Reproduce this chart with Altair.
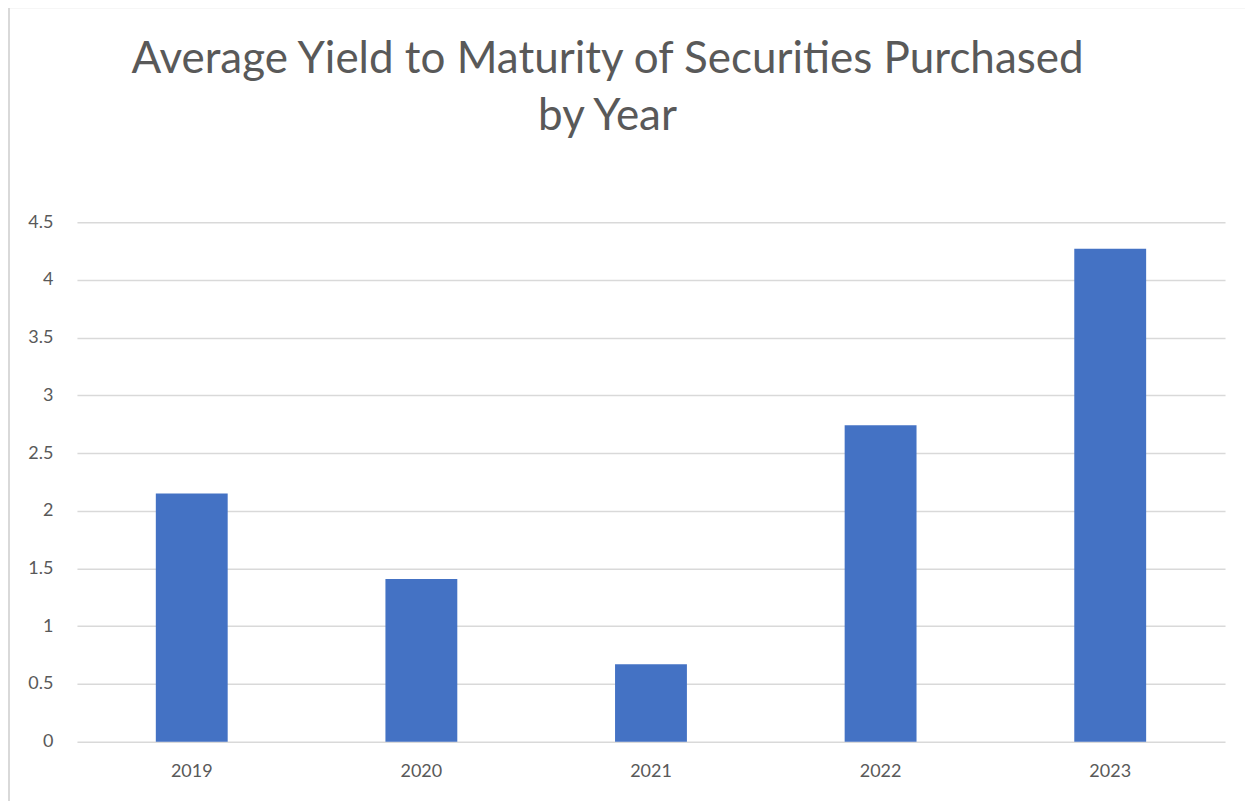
import altair as alt
import pandas as pd

years = ["2019", "2020", "2021", "2022", "2023"]
yields = [2.15, 1.41, 0.67, 2.74, 4.27]
y_ticks = [0, 0.5, 1, 1.5, 2, 2.5, 3, 3.5, 4, 4.5]
title_lines = ["Average Yield to Maturity of Securities Purchased", "by Year"]

df = pd.DataFrame({"year": years, "ytm": yields})

FONT = "Lato"
GREY = "#595959"

bars = alt.Chart(df).mark_bar(color="#4472C4").encode(
    x=alt.X("year:N", sort=years, title=None,
            scale=alt.Scale(paddingInner=0.687, paddingOuter=0.3435),
            axis=alt.Axis(labelAngle=0, ticks=False, domain=False, labelPadding=21,
                          labelFontSize=18, labelColor=GREY, labelFont=FONT)),
    y=alt.Y("ytm:Q", title=None,
            scale=alt.Scale(domain=[0, 4.5], nice=False),
            axis=alt.Axis(values=y_ticks, ticks=False, domain=False, labelPadding=24,
                          labelFontSize=18, labelColor=GREY, labelFont=FONT,
                          gridColor="#d9d9d9", gridWidth=1.5, format="~g")),
)

frame = alt.Chart(df).mark_rect(fill=None, stroke="#d9d9d9", strokeWidth=2, clip=False).encode(
    x=alt.value(-68), x2=alt.value(1300), y=alt.value(-215), y2=alt.value(700)
).transform_filter(alt.datum.year == "2019")

t1 = alt.Chart(df).mark_text(text=title_lines[0], font=FONT, fontSize=44, color=GREY,
                             align="center", baseline="alphabetic", clip=False).encode(
    x=alt.value(531), y=alt.value(-149)
).transform_filter(alt.datum.year == "2019")

t2 = alt.Chart(df).mark_text(text=title_lines[1], font=FONT, fontSize=44, color=GREY,
                             align="center", baseline="alphabetic", clip=False).encode(
    x=alt.value(531), y=alt.value(-92)
).transform_filter(alt.datum.year == "2019")

chart = alt.layer(frame, bars, t1, t2).properties(
    width=1149, height=520,
    background="white",
    autosize=alt.AutoSizeParams(type="none"),
    padding={"left": 69, "top": 214, "right": 20, "bottom": 60},
).configure_view(stroke=None)

chart.save("out.html", embed_options={"renderer": "svg", "actions": False})
